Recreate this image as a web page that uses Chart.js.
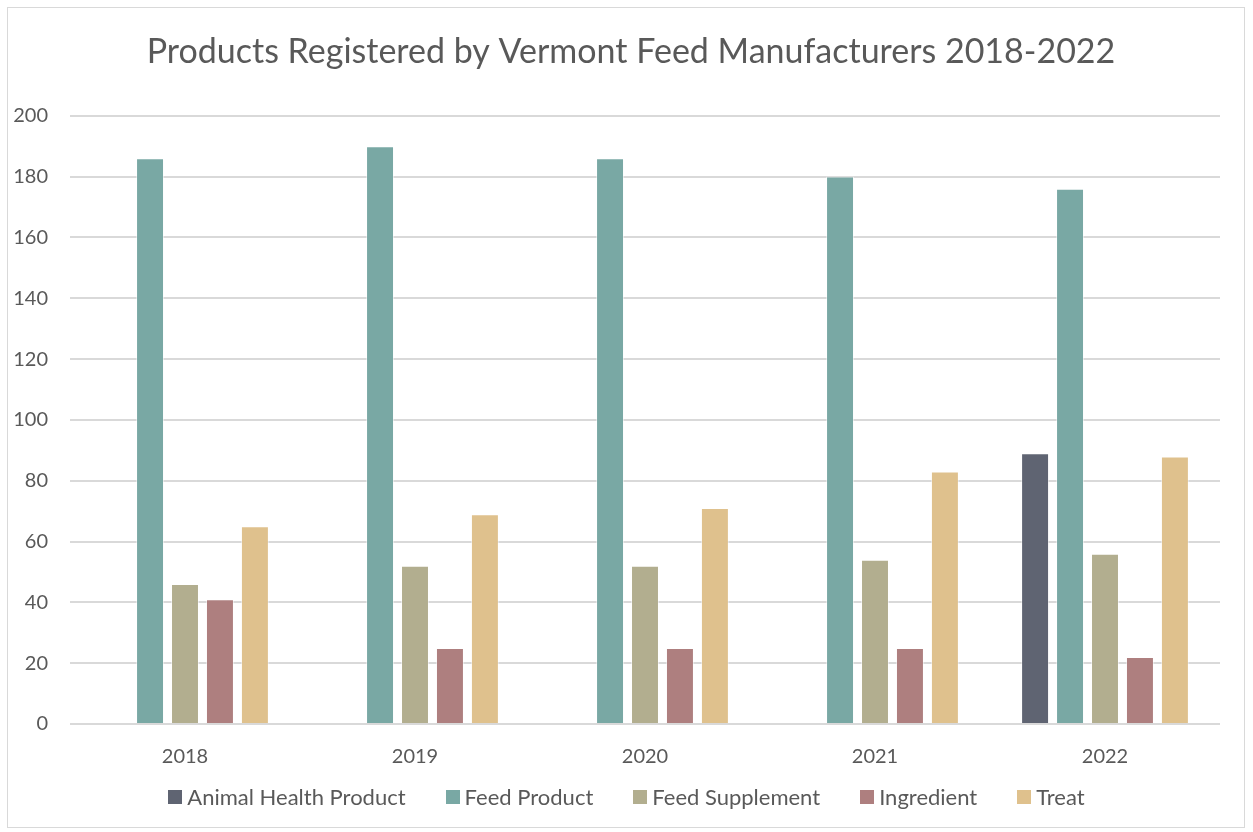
<!DOCTYPE html>
<html>
<head>
<meta charset="utf-8">
<script src="https://cdn.jsdelivr.net/npm/chart.js@4.4.1/dist/chart.umd.min.js"></script>
<style>
  html, body { margin: 0; padding: 0; background: #fff; overflow: hidden; }
  #frame {
    position: absolute; left: 7px; top: 7px;
    width: 1238px; height: 821px;
    border: 1px solid #d9d9d9; box-sizing: border-box;
  }
  #wrap { position: absolute; left: 8px; top: 8px; width: 1246px; height: 819px; }
  #legend {
    position: absolute; left: 0; top: 785px; width: 1253px;
    display: flex; justify-content: center; align-items: center;
    font-family: Lato, 'Open Sans', sans-serif; font-size: 22px; line-height: 24px; color: #595959;
  }
  #legend .item { display: flex; align-items: center; margin: 0 20px; }
  #legend .box { width: 14px; height: 14px; margin-right: 5px; }
</style>
</head>
<body>
<div id="frame"></div>
<div id="wrap"><canvas id="chart"></canvas></div>
<div id="legend"></div>
<script>
// Products registered per year, by type
const years = ['2018', '2019', '2020', '2021', '2022'];
const animalHealth = [0, 0, 0, 0, 89];
const feedProduct = [186, 190, 186, 180, 176];
const feedSupplement = [46, 52, 52, 54, 56];
const ingredient = [41, 25, 25, 25, 22];
const treat = [65, 69, 71, 83, 88];

const textColor = '#595959';
const gridColor = '#d9d9d9';
const fontFamily = "Lato, 'Open Sans', sans-serif";

const mkSet = (label, data, color) => ({
  label: label,
  data: data,
  backgroundColor: color,
  borderColor: 'rgba(255, 255, 255, 0.5)',
  borderWidth: 1,
  categoryPercentage: 0.76,
  barPercentage: 0.8
});

// The title sits a little right of the plot centre in the original
const titleShift = {
  id: 'titleShift',
  afterInit(chart) {
    const t = chart.titleBlock;
    if (!t) return;
    const draw = t.draw.bind(t);
    t.draw = function () {
      chart.ctx.save();
      chart.ctx.translate(17, 0);
      draw();
      chart.ctx.restore();
    };
  }
};

const chart = new Chart(document.getElementById('chart'), {
  type: 'bar',
  data: {
    labels: years,
    datasets: [
      mkSet('Animal Health Product', animalHealth, '#5f6472'),
      mkSet('Feed Product', feedProduct, '#79a8a4'),
      mkSet('Feed Supplement', feedSupplement, '#b2ae8f'),
      mkSet('Ingredient', ingredient, '#ae7f7f'),
      mkSet('Treat', treat, '#dfc18d')
    ]
  },
  plugins: [titleShift],
  options: {
    responsive: true,
    maintainAspectRatio: false,
    animation: false,
    layout: { padding: { left: 0, right: 34, top: 0, bottom: 59 } },
    plugins: {
      title: {
        display: true,
        text: 'Products Registered by Vermont Feed Manufacturers 2018-2022',
        color: textColor,
        font: { family: fontFamily, size: 34, weight: 'normal' },
        padding: { top: 24, bottom: 43 }
      },
      legend: { display: false },
      tooltip: { enabled: false }
    },
    scales: {
      x: {
        grid: { display: false },
        border: { display: false },
        ticks: { color: textColor, font: { family: fontFamily, size: 20 }, padding: 13 },
        afterFit: (scale) => { scale.height = 44; }
      },
      y: {
        min: 0,
        max: 200,
        ticks: { stepSize: 20, color: textColor, font: { family: fontFamily, size: 20 }, padding: 22 },
        grid: { color: gridColor, lineWidth: 2, drawTicks: false },
        border: { display: false },
        afterFit: (scale) => { scale.width = 62; }
      }
    }
  }
});

// Legend built from the chart's datasets
const legendEl = document.getElementById('legend');
chart.data.datasets.forEach(ds => {
  const item = document.createElement('div');
  item.className = 'item';
  const box = document.createElement('span');
  box.className = 'box';
  box.style.background = ds.backgroundColor;
  const label = document.createElement('span');
  label.textContent = ds.label;
  item.appendChild(box);
  item.appendChild(label);
  legendEl.appendChild(item);
});
</script>
</body>
</html>
